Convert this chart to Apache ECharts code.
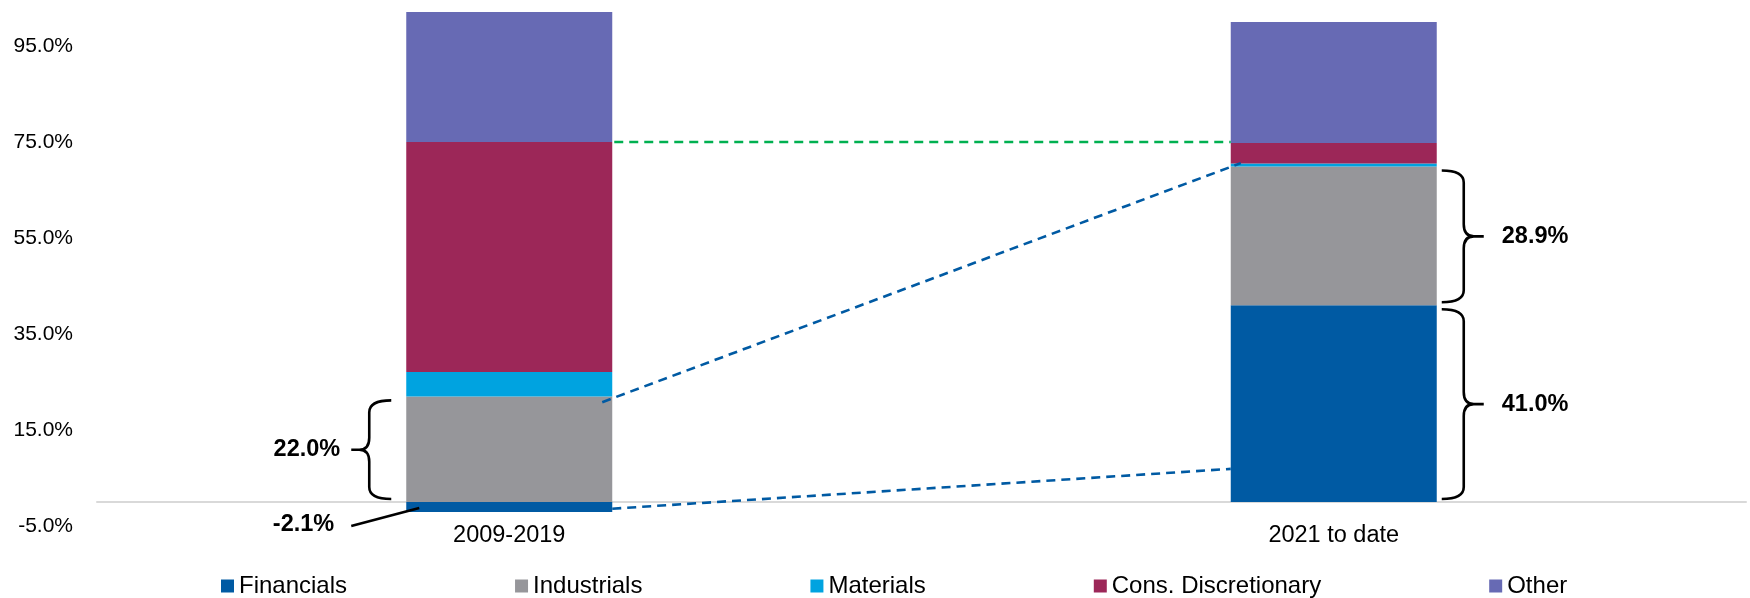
<!DOCTYPE html>
<html><head><meta charset="utf-8">
<script src="https://cdn.jsdelivr.net/npm/echarts@6/dist/echarts.min.js"></script>
<style>html,body{margin:0;padding:0;background:#fff}#c{width:1750px;height:598px}</style>
</head><body><div id="c"></div>
<script>
// ---- data ----
const categories = ['2009-2019', '2021 to date'];
const seriesNames = ['Financials', 'Industrials', 'Materials', 'Cons. Discretionary', 'Other'];
const financials = [-2.1, 41.0];
const industrials = [22.0, 28.9];
const materials = [5.1, 0.6];
const consDiscretionary = [47.9, 4.3];
const other = [27.1, 25.2];
const yMin = -5, yMax = 104, yInterval = 20;
// connectors: [fromCategoryIndex, fromValue, toCategoryIndex, toValue]
const connectorGreen = [0, 75.0, 1, 75.0];
const connectorBlueUpper = [0, 20.8, 1, 70.6];
const connectorBlueLower = [0, -1.4, 1, 6.9];
// braces: [categoryIndex, fromValue, toValue, label]
const braceLeft = [0, 0, 22.0, '22.0%'];
const braceRightUpper = [1, 41.0, 69.9, '28.9%'];
const braceRightLower = [1, 0, 41.0, '41.0%'];
// callout: [categoryIndex, value, label]
const calloutNeg = [0, -1.25, '-2.1%'];

// ---- styling ----
const colors = ['#005AA3', '#96969A', '#00A3E0', '#9C2758', '#676AB4'];
const BAR_W = 206;
const FONT = '"Liberation Sans", Arial, sans-serif';
const connectors = [
  {d: connectorGreen, color: '#00B050', dx0: 2, dx1: 0},
  {d: connectorBlueUpper, color: '#005AA3', dx0: -10, dx1: 10},
  {d: connectorBlueLower, color: '#005AA3', dx0: 0, dx1: 0}
];
const braces = [
  {d: braceLeft, side: 'left'},
  {d: braceRightUpper, side: 'right'},
  {d: braceRightLower, side: 'right'}
];

const chart = echarts.init(document.getElementById('c'), null, {renderer: 'canvas'});
const values = [financials, industrials, materials, consDiscretionary, other];

const barSeries = seriesNames.map((n, i) => ({
  name: n, type: 'bar', stack: 'total', barWidth: BAR_W,
  data: values[i], itemStyle: {color: colors[i]}, z: 2
}));

const connectorSeries = {
  type: 'custom', name: 'connectors', z: 5, silent: true, clip: false,
  data: connectors.map(c => c.d),
  renderItem: function (params, api) {
    const c = connectors[params.dataIndex];
    const p0 = api.coord([api.value(0), api.value(1)]);
    const p1 = api.coord([api.value(2), api.value(3)]);
    const x0 = p0[0] + BAR_W / 2 + c.dx0;
    const x1 = p1[0] - BAR_W / 2 + c.dx1;
    return {
      type: 'line',
      shape: {x1: x0, y1: p0[1], x2: x1, y2: p1[1]},
      style: {stroke: c.color, lineWidth: 2.6, lineDash: [9, 6], fill: null}
    };
  }
};

const braceSeries = {
  type: 'custom', name: 'braces', z: 6, silent: true, clip: false,
  data: braces.map(b => [b.d[0], b.d[1], b.d[2]]),
  renderItem: function (params, api) {
    const b = braces[params.dataIndex];
    const cat = api.value(0);
    const pTop = api.coord([cat, api.value(2)]);
    const pBot = api.coord([cat, api.value(1)]);
    const yTop = pTop[1] + 4, yBot = pBot[1] - 3;
    const mid = (yTop + yBot) / 2;
    const r = 12;
    let xe, xv, xc, tip, lx, align;
    if (b.side === 'left') {
      const edge = pTop[0] - BAR_W / 2;
      xe = edge - 15; xv = edge - 37; xc = edge - 47; tip = edge - 55; lx = tip - 11; align = 'right';
    } else {
      const edge = pTop[0] + BAR_W / 2;
      xe = edge + 5; xv = edge + 27; xc = edge + 37; tip = edge + 47; lx = tip + 18; align = 'left';
    }
    const path = 'M' + xe + ' ' + yTop +
      ' Q' + xv + ' ' + yTop + ' ' + xv + ' ' + (yTop + r) +
      ' L' + xv + ' ' + (mid - r) +
      ' Q' + xv + ' ' + mid + ' ' + xc + ' ' + mid +
      ' Q' + xv + ' ' + mid + ' ' + xv + ' ' + (mid + r) +
      ' L' + xv + ' ' + (yBot - r) +
      ' Q' + xv + ' ' + yBot + ' ' + xe + ' ' + yBot +
      ' M' + xc + ' ' + mid + ' L' + tip + ' ' + mid;
    return {
      type: 'group',
      children: [
        {type: 'path', shape: {pathData: path}, style: {stroke: '#000', lineWidth: 2.6, fill: null}},
        {type: 'text', x: lx, y: mid, style: {text: b.d[3], fill: '#000', font: 'bold 23.5px ' + FONT, align: align, verticalAlign: 'middle'}}
      ]
    };
  }
};

const calloutSeries = {
  type: 'custom', name: 'callout', z: 6, silent: true, clip: false,
  data: [[calloutNeg[0], calloutNeg[1]]],
  renderItem: function (params, api) {
    const p = api.coord([api.value(0), api.value(1)]);
    const edge = p[0] - BAR_W / 2;
    return {
      type: 'group',
      children: [
        {type: 'line', shape: {x1: edge + 13, y1: p[1], x2: edge - 55, y2: p[1] + 18}, style: {stroke: '#000', lineWidth: 2.6}},
        {type: 'text', x: edge - 72, y: p[1] + 17, style: {text: calloutNeg[2], fill: '#000', font: 'bold 23.5px ' + FONT, align: 'right', verticalAlign: 'middle'}}
      ]
    };
  }
};

chart.setOption({
  animation: false,
  backgroundColor: '#fff',
  grid: {left: 97, right: 4, top: 598 - 72 - (yMax - yMin) * 4.8, bottom: 72, containLabel: false},
  legend: {
    data: seriesNames, left: 221, top: 574, padding: 0, itemWidth: 13, itemHeight: 13, itemGap: 168,
    icon: 'rect', textStyle: {fontSize: 24, fontFamily: FONT, color: '#000'}
  },
  xAxis: {
    type: 'category', data: categories,
    axisLine: {onZero: true, lineStyle: {color: '#D9D9D9', width: 2}},
    axisTick: {show: false},
    axisLabel: {fontSize: 23.5, fontFamily: FONT, color: '#000', margin: -2},
    splitLine: {show: false}
  },
  yAxis: {
    type: 'value', min: yMin, max: yMax, interval: yInterval,
    axisLine: {show: false}, axisTick: {show: false}, splitLine: {show: false},
    axisLabel: {fontSize: 21, fontFamily: FONT, color: '#000', margin: 24, showMaxLabel: false,
      formatter: v => v.toFixed(1) + '%'}
  },
  series: barSeries.concat([connectorSeries, braceSeries, calloutSeries])
});
</script>
</body></html>
